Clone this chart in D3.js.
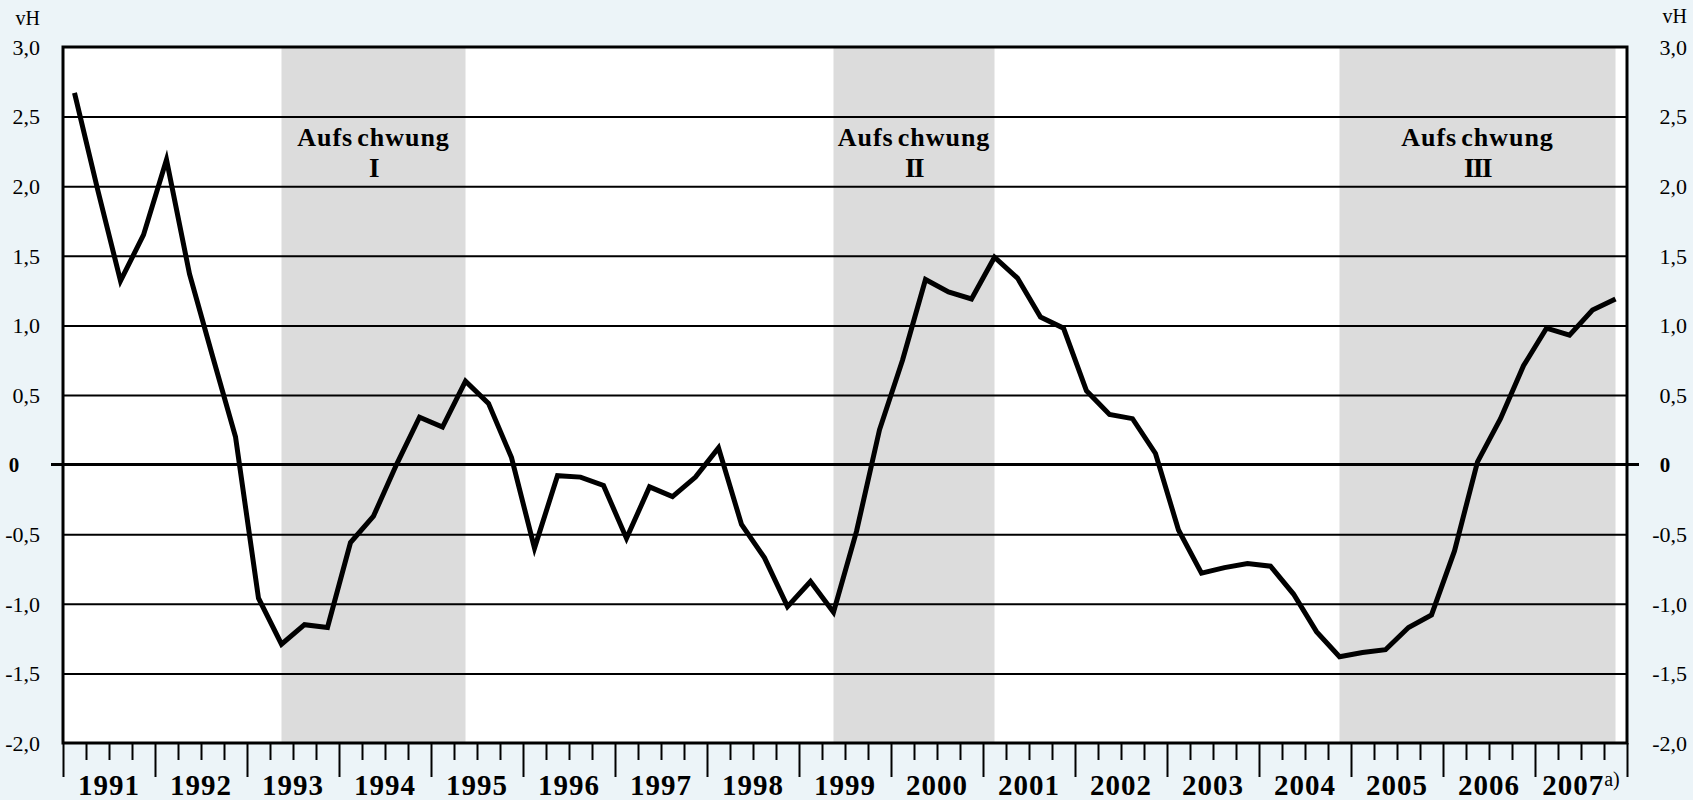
<!DOCTYPE html>
<html>
<head>
<meta charset="utf-8">
<script src="https://cdn.jsdelivr.net/npm/d3@7"></script>
<style>
  html, body { margin: 0; padding: 0; background: #ECF4F8; }
  svg { display: block; }
  text { font-family: "Liberation Serif", "Times New Roman", serif; fill: #000; }
</style>
</head>
<body>
<svg id="chart" width="1693" height="800"></svg>
<script>
// ---- Data (quarterly, 1991 Q1 .. 2007 Q4), vH ----
const years = ["1991","1992","1993","1994","1995","1996","1997","1998","1999","2000","2001","2002","2003","2004","2005","2006","2007"];
const values = [
  2.67, 1.98, 1.32, 1.65,   // 1991
  2.19, 1.37, 0.78, 0.20,   // 1992
  -0.96, -1.29, -1.15, -1.17, // 1993
  -0.56, -0.37, 0.00, 0.34, // 1994
  0.27, 0.60, 0.44, 0.05,   // 1995
  -0.60, -0.08, -0.09, -0.15, // 1996
  -0.53, -0.16, -0.23, -0.09, // 1997
  0.12, -0.43, -0.67, -1.02, // 1998
  -0.84, -1.06, -0.48, 0.25, // 1999
  0.75, 1.33, 1.24, 1.19,   // 2000
  1.49, 1.34, 1.06, 0.98,   // 2001
  0.53, 0.36, 0.33, 0.08,   // 2002
  -0.47, -0.78, -0.74, -0.71, // 2003
  -0.73, -0.93, -1.20, -1.38, // 2004
  -1.35, -1.33, -1.17, -1.08, // 2005
  -0.62, 0.02, 0.33, 0.71,  // 2006
  0.98, 0.93, 1.11, 1.19    // 2007
];
const yTicks = [-2, -1.5, -1, -0.5, 0, 0.5, 1, 1.5, 2, 2.5, 3];
const yTickLabels = ["-2,0","-1,5","-1,0","-0,5","0","0,5","1,0","1,5","2,0","2,5","3,0"];
// upswing phases: start and end quarter index (trough to peak)
const phaseStart = [9, 33, 55];
const phaseEnd = [17, 40, 67];
const phaseNames = ["I", "II", "III"];
const unitLabel = "vH";
const footnote = "a)";

// ---- Layout ----
const W = 1693, H = 800;
const L = 63, R = 1627, T = 47, B = 743;
const svg = d3.select("#chart");

svg.append("rect").attr("x", 0).attr("y", 0).attr("width", W).attr("height", H).attr("fill", "#ECF4F8");

const x = d3.scaleLinear().domain([0, values.length]).range([L, R]);
const y = d3.scaleLinear().domain([-2, 3]).range([B, T]);
const xc = i => x(i + 0.5);

// plot background
svg.append("rect").attr("x", L).attr("y", T).attr("width", R - L).attr("height", B - T).attr("fill", "#FFFFFF");

// shaded phases
svg.append("g").selectAll("rect").data(phaseStart).join("rect")
  .attr("x", (d) => xc(d))
  .attr("y", T)
  .attr("width", (d, i) => xc(phaseEnd[i]) - xc(d))
  .attr("height", B - T)
  .attr("fill", "#DCDCDC");

// gridlines via axis
const grid = svg.append("g").attr("transform", `translate(${L},0)`)
  .call(d3.axisRight(y).tickValues(yTicks.filter(v => v !== 0 && v !== 3 && v !== -2)).tickSize(R - L).tickFormat(""));
grid.select(".domain").remove();
grid.selectAll(".tick line").attr("stroke", "#000").attr("stroke-width", 2);

// zero line (extends beyond frame)
svg.append("line").attr("x1", L - 12).attr("x2", R + 12).attr("y1", y(0)).attr("y2", y(0))
  .attr("stroke", "#000").attr("stroke-width", 3);

// Aufschwung labels
const lab = svg.append("g");
phaseStart.forEach((s, i) => {
  const cx = (xc(s) + xc(phaseEnd[i])) / 2;
  const t = lab.append("text").attr("x", cx).attr("y", 146).attr("text-anchor", "middle")
    .attr("font-size", 26).attr("font-weight", "bold").attr("letter-spacing", 1);
  t.append("tspan").text("Aufs");
  t.append("tspan").attr("dx", 4).text("chwung");
  lab.append("text").attr("x", cx).attr("y", 177).attr("text-anchor", "middle")
    .attr("font-size", 27).attr("font-weight", "bold").attr("letter-spacing", -1.5)
    .text(phaseNames[i]);
});

// data line
const line = d3.line().x((d, i) => xc(i)).y(d => y(d));
svg.append("path").datum(values).attr("d", line)
  .attr("fill", "none").attr("stroke", "#000").attr("stroke-width", 5)
  .attr("stroke-linejoin", "miter").attr("stroke-miterlimit", 10);

// frame
svg.append("rect").attr("x", L).attr("y", T).attr("width", R - L).attr("height", B - T)
  .attr("fill", "none").attr("stroke", "#000").attr("stroke-width", 3);

// x-axis quarter ticks
const qTicks = d3.range(0, values.length + 1);
const xAxis = svg.append("g").attr("transform", `translate(0,${B})`)
  .call(d3.axisBottom(x).tickValues(qTicks).tickSize(16).tickFormat(""));
xAxis.select(".domain").remove();
xAxis.selectAll(".tick line")
  .attr("stroke", "#000").attr("stroke-width", 2)
  .attr("y2", d => (d % 4 === 0 ? 34 : 17));

// year labels
const yl = svg.append("g");
years.forEach((yr, i) => {
  const cx = x(i * 4 + 2);
  const t = yl.append("text").attr("x", cx).attr("y", 795).attr("text-anchor", "middle")
    .attr("font-size", 29).attr("font-weight", "bold").attr("letter-spacing", 1);
  t.append("tspan").text(yr);
  if (i === years.length - 1) {
    t.append("tspan").attr("dy", -9).attr("font-size", 20).attr("font-weight", "normal")
      .attr("letter-spacing", 0).text(footnote);
  }
});

// y labels, left and right
yTicks.forEach((v, i) => {
  if (v === 0) {
    svg.append("text").attr("x", 14).attr("y", y(v)).attr("dy", "0.35em").attr("text-anchor", "middle")
      .attr("font-size", 21).attr("font-weight", "bold").text(yTickLabels[i]);
    svg.append("text").attr("x", 1665).attr("y", y(v)).attr("dy", "0.35em").attr("text-anchor", "middle")
      .attr("font-size", 21).attr("font-weight", "bold").text(yTickLabels[i]);
  } else {
    svg.append("text").attr("x", 40).attr("y", y(v)).attr("dy", "0.35em").attr("text-anchor", "end")
      .attr("font-size", 22).text(yTickLabels[i]);
    svg.append("text").attr("x", 1687).attr("y", y(v)).attr("dy", "0.35em").attr("text-anchor", "end")
      .attr("font-size", 22).text(yTickLabels[i]);
  }
});
svg.append("text").attr("x", 40).attr("y", 25).attr("text-anchor", "end").attr("font-size", 20).text(unitLabel);
svg.append("text").attr("x", 1687).attr("y", 23).attr("text-anchor", "end").attr("font-size", 20).text(unitLabel);
</script>
</body>
</html>
